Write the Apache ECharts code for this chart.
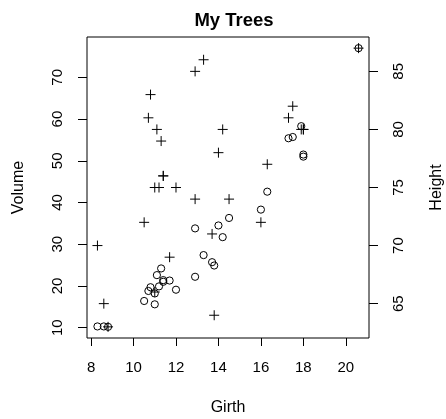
<!DOCTYPE html>
<html>
<head>
<meta charset="utf-8">
<script src="https://cdn.jsdelivr.net/npm/echarts@6/dist/echarts.min.js"></script>
<style>
html,body{margin:0;padding:0;background:#fff;}
#chart{width:446px;height:419px;}
</style>
</head>
<body>
<div id="chart"></div>
<script>
// trees: girth, height and volume of 31 black cherry trees
const girth  = [8.3, 8.6, 8.8, 10.5, 10.7, 10.8, 11.0, 11.0, 11.1, 11.2, 11.3, 11.4, 11.4, 11.7, 12.0, 12.9, 12.9, 13.3, 13.7, 13.8, 14.0, 14.2, 14.5, 16.0, 16.3, 17.3, 17.5, 17.9, 18.0, 18.0, 20.6];
const height = [70, 65, 63, 72, 81, 83, 66, 75, 80, 75, 79, 76, 76, 69, 75, 74, 85, 86, 71, 64, 78, 80, 74, 72, 77, 81, 82, 80, 80, 80, 87];
const volume = [10.3, 10.3, 10.2, 16.4, 18.8, 19.7, 15.6, 18.2, 22.6, 19.9, 24.2, 21.0, 21.4, 21.3, 19.1, 22.2, 33.8, 27.4, 25.7, 24.9, 34.5, 31.7, 36.3, 38.3, 42.6, 55.4, 55.7, 58.3, 51.5, 51.0, 77.0];

const girthTicks  = [8, 10, 12, 14, 16, 18, 20];
const volumeTicks = [10, 20, 30, 40, 50, 60, 70];
const heightTicks = [65, 70, 75, 80, 85];

// axis ranges padded by 4% on each side
function padded(arr) {
  const lo = Math.min(...arr), hi = Math.max(...arr), d = (hi - lo) * 0.04;
  return [lo - d, hi + d];
}
const xr = padded(girth), vr = padded(volume), hr = padded(height);

const FONT = 'Liberation Sans, Arial, Helvetica, sans-serif';
const ink = '#000';

function yAxisCfg(range, ticks, name, pos) {
  return {
    type: 'value', position: pos, min: range[0], max: range[1],
    name: name, nameLocation: 'middle', nameRotate: 90, nameGap: 60,
    nameTextStyle: { color: ink, fontSize: 16, fontFamily: FONT },
    splitLine: { show: false },
    axisLine: { show: false },
    axisTick: { show: true, length: 9, customValues: ticks, lineStyle: { color: ink } },
    axisLabel: { customValues: ticks, rotate: 90, margin: 22, color: ink, fontSize: 15, fontFamily: FONT }
  };
}

const crossPts = girth.map((g, i) => [g, height[i]]);
const circlePts = girth.map((g, i) => [g, volume[i]]);

const option = {
  animation: false,
  backgroundColor: '#fff',
  title: {
    text: 'My Trees', left: 229, top: 6, textAlign: 'center',
    textStyle: { fontSize: 18.5, fontWeight: 'bold', color: ink, fontFamily: FONT }
  },
  grid: {
    left: 87, right: 77, top: 37, bottom: 81,
    outerBoundsMode: 'none', containLabel: false,
    show: true, borderColor: ink, borderWidth: 1, backgroundColor: 'transparent'
  },
  xAxis: {
    type: 'value', min: xr[0], max: xr[1],
    name: 'Girth', nameLocation: 'middle', nameGap: 62,
    nameTextStyle: { color: ink, fontSize: 16, fontFamily: FONT },
    splitLine: { show: false },
    axisLine: { show: false },
    axisTick: { show: true, length: 8, customValues: girthTicks, lineStyle: { color: ink } },
    axisLabel: { customValues: girthTicks, margin: 22, color: ink, fontSize: 15, fontFamily: FONT }
  },
  yAxis: [
    yAxisCfg(vr, volumeTicks, 'Volume', 'left'),
    yAxisCfg(hr, heightTicks, 'Height', 'right')
  ],
  series: [
    {
      type: 'custom', yAxisIndex: 0, data: circlePts,
      renderItem: function (params, api) {
        const p = api.coord([api.value(0), api.value(1)]);
        return { type: 'circle', shape: { cx: p[0], cy: p[1], r: 3.6 },
                 style: { fill: 'none', stroke: ink, lineWidth: 1 } };
      }
    },
    {
      type: 'custom', yAxisIndex: 1, data: crossPts,
      renderItem: function (params, api) {
        const p = api.coord([api.value(0), api.value(1)]);
        const h = 5;
        return { type: 'group', children: [
          { type: 'line', shape: { x1: p[0] - h, y1: p[1], x2: p[0] + h, y2: p[1] }, style: { stroke: ink, lineWidth: 1 } },
          { type: 'line', shape: { x1: p[0], y1: p[1] - h, x2: p[0], y2: p[1] + h }, style: { stroke: ink, lineWidth: 1 } }
        ] };
      }
    }
  ]
};

echarts.init(document.getElementById('chart'), null, { renderer: 'canvas' }).setOption(option);
</script>
</body>
</html>
